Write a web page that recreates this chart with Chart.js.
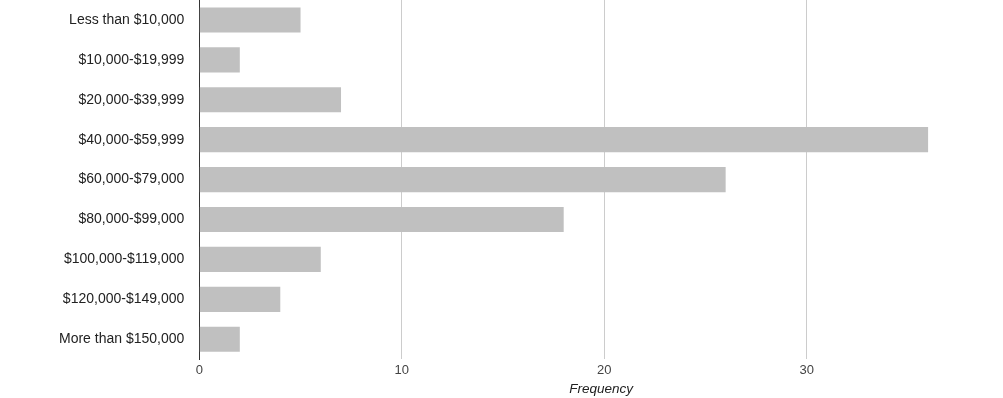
<!DOCTYPE html>
<html>
<head>
<meta charset="utf-8">
<script src="https://cdn.jsdelivr.net/npm/chart.js@4"></script>
<style>
  html, body { margin: 0; padding: 0; background: #fff; }
  #wrap { width: 1003px; height: 398px; }
</style>
</head>
<body>
<div id="wrap"><canvas id="grafico"></canvas></div>
<script>
let faixas = ['Less than $10,000', '$10,000-$19,999', '$20,000-$39,999', '$40,000-$59,999',
  '$60,000-$79,000', '$80,000-$99,000', '$100,000-$119,000', '$120,000-$149,000', 'More than $150,000']
let frequencia = [5, 2, 7, 36, 26, 18, 6, 4, 2]
let ticksX = [0, 10, 20, 30]

let grafico = document.getElementById('grafico')

new Chart(grafico, {
  type: 'bar',
  data: {
    labels: faixas,
    datasets: [{
      label: 'Frequency',
      data: frequencia,
      backgroundColor: '#c0c0c0',
      borderWidth: 0,
      categoryPercentage: 1,
      barPercentage: 0.63
    }]
  },
  options: {
    indexAxis: 'y',
    responsive: true,
    maintainAspectRatio: false,
    animation: false,
    layout: { autoPadding: false, padding: { left: 44, right: 0, top: 0, bottom: 1 } },
    plugins: {
      legend: { display: false },
      tooltip: { enabled: false }
    },
    scales: {
      x: {
        min: 0,
        max: 39.7,
        afterBuildTicks: (scale) => {
          scale.ticks = ticksX.map(v => ({ value: v }))
        },
        ticks: {
          color: '#444',
          font: { family: 'Liberation Sans, Arial', size: 13 },
          padding: 3
        },
        grid: {
          color: (ctx) => ctx.tick && ctx.tick.value === 0 ? '#333' : '#ccc',
          lineWidth: 1,
          drawTicks: false
        },
        border: { display: false },
        title: {
          display: true,
          text: 'Frequency',
          color: '#222',
          font: { family: 'Liberation Sans, Arial', size: 13.5, style: 'italic' },
          padding: { top: 0, bottom: 0 }
        }
      },
      y: {
        // sem o espaco extra que o chart.js reserva em cima/embaixo
        afterFit: (scale) => {
          scale.paddingTop = 0
          scale.paddingBottom = 0
        },
        ticks: {
          color: '#222',
          font: { family: 'Liberation Sans, Arial', size: 14 },
          padding: 15
        },
        grid: { display: false, drawTicks: false },
        border: { display: true, color: '#333', width: 1 }
      }
    }
  }
})
</script>
</body>
</html>
